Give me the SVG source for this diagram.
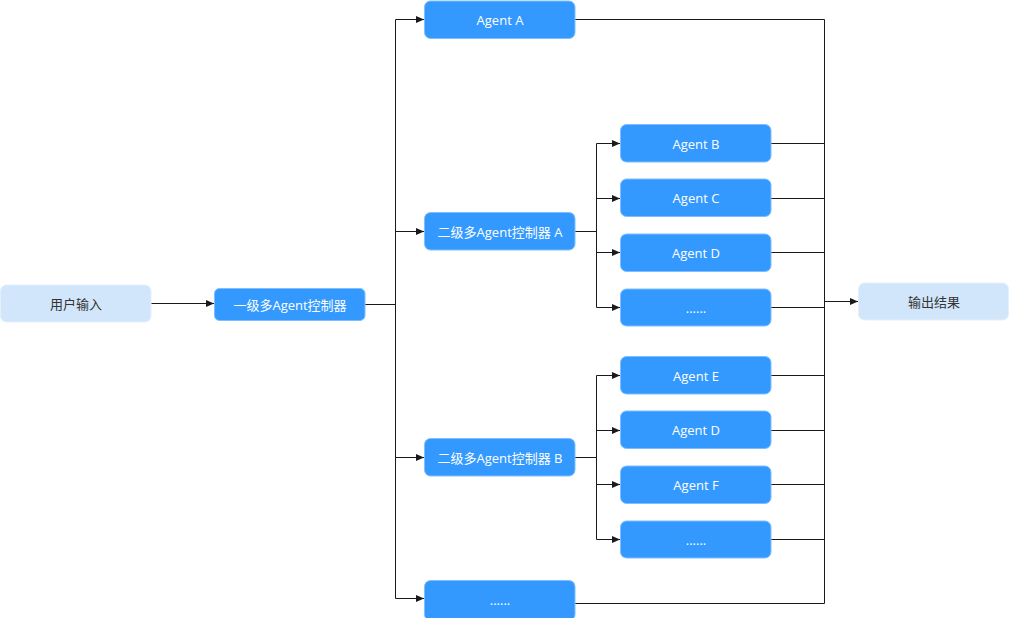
<svg xmlns="http://www.w3.org/2000/svg" width="1010" height="618" viewBox="0 0 1010 618">
<style>
.b{fill:#3399ff;stroke:#7fbfff;stroke-width:1}
.l{fill:#d1e6fa;stroke:#e3f0fc;stroke-width:1}
.t{font-family:"Open Sans","Noto Sans CJK SC",sans-serif;font-size:13px;text-anchor:middle;dominant-baseline:central}
.tw{fill:#ffffff}
.td{fill:#333333}
.c{fill:none;stroke:#1a1a1a;stroke-width:1}
</style>
<defs>
<marker id="ah" markerWidth="8" markerHeight="8" refX="8" refY="4" orient="auto" markerUnits="userSpaceOnUse">
<path d="M0,0.5 L8,4 L0,7.5 Z" fill="#1a1a1a"/>
</marker>
</defs>
<g id="connectors">
<path class="c" d="M151,303.5 H214" marker-end="url(#ah)"/>
<path class="c" d="M365,304.5 H395.5"/>
<path class="c" d="M395.5,19.5 V598.5"/>
<path class="c" d="M395.5,19.5 H424" marker-end="url(#ah)"/>
<path class="c" d="M395.5,231.5 H424" marker-end="url(#ah)"/>
<path class="c" d="M395.5,457.5 H424" marker-end="url(#ah)"/>
<path class="c" d="M395.5,598.5 H424" marker-end="url(#ah)"/>
<path class="c" d="M575,231.5 H596.5"/>
<path class="c" d="M596.5,143.5 V307.5"/>
<path class="c" d="M596.5,143.5 H620" marker-end="url(#ah)"/>
<path class="c" d="M596.5,198.5 H620" marker-end="url(#ah)"/>
<path class="c" d="M596.5,252.5 H620" marker-end="url(#ah)"/>
<path class="c" d="M596.5,307.5 H620" marker-end="url(#ah)"/>
<path class="c" d="M575,457.5 H596.5"/>
<path class="c" d="M596.5,375.5 V539.5"/>
<path class="c" d="M596.5,375.5 H620" marker-end="url(#ah)"/>
<path class="c" d="M596.5,430.5 H620" marker-end="url(#ah)"/>
<path class="c" d="M596.5,484.5 H620" marker-end="url(#ah)"/>
<path class="c" d="M596.5,539.5 H620" marker-end="url(#ah)"/>
<path class="c" d="M575,19.5 H824.5 V603.5 H575"/>
<path class="c" d="M771,143.5 H824.5"/>
<path class="c" d="M771,198.5 H824.5"/>
<path class="c" d="M771,252.5 H824.5"/>
<path class="c" d="M771,307.5 H824.5"/>
<path class="c" d="M771,375.5 H824.5"/>
<path class="c" d="M771,430.5 H824.5"/>
<path class="c" d="M771,484.5 H824.5"/>
<path class="c" d="M771,539.5 H824.5"/>
<path class="c" d="M824.5,301.5 H858" marker-end="url(#ah)"/>
</g>
<g id="user-input"><rect class="l" x="0.5" y="285" width="150.5" height="37" rx="6"/><text class="t td" x="76" y="303.5">用户输入</text></g>
<g id="controller-1"><rect class="b" x="214.5" y="288.5" width="150.5" height="32" rx="5"/><text class="t tw" x="290" y="304.5">一级多Agent控制器</text></g>
<g id="agent-a"><rect class="b" x="424.5" y="1" width="150.5" height="37.5" rx="6"/><text class="t tw" x="500" y="19.5">Agent A</text></g>
<g id="controller-2a"><rect class="b" x="424.5" y="212.5" width="150.5" height="37.5" rx="6"/><text class="t tw" x="500" y="231.5">二级多Agent控制器 A</text></g>
<g id="agent-b"><rect class="b" x="620.5" y="124.5" width="150.5" height="37.5" rx="6"/><text class="t tw" x="696" y="143.5">Agent B</text></g>
<g id="agent-c"><rect class="b" x="620.5" y="179" width="150.5" height="37.5" rx="6"/><text class="t tw" x="696" y="197.5">Agent C</text></g>
<g id="agent-d1"><rect class="b" x="620.5" y="234" width="150.5" height="37.5" rx="6"/><text class="t tw" x="696" y="252.5">Agent D</text></g>
<g id="more-a"><rect class="b" x="620.5" y="289" width="150.5" height="37" rx="6"/><text class="t tw" x="696" y="307.5">......</text></g>
<g id="controller-2b"><rect class="b" x="424.5" y="438.5" width="150.5" height="37.5" rx="6"/><text class="t tw" x="500" y="457.5">二级多Agent控制器 B</text></g>
<g id="agent-e"><rect class="b" x="620.5" y="356.5" width="150.5" height="37.5" rx="6"/><text class="t tw" x="696" y="375.5">Agent E</text></g>
<g id="agent-d2"><rect class="b" x="620.5" y="411" width="150.5" height="37.5" rx="6"/><text class="t tw" x="696" y="429.5">Agent D</text></g>
<g id="agent-f"><rect class="b" x="620.5" y="466" width="150.5" height="37.5" rx="6"/><text class="t tw" x="696" y="484.5">Agent F</text></g>
<g id="more-b"><rect class="b" x="620.5" y="521" width="150.5" height="37" rx="6"/><text class="t tw" x="696" y="539.5">......</text></g>
<g id="more-top"><rect class="b" x="424.5" y="580.5" width="150.5" height="40" rx="6"/><text class="t tw" x="500" y="599.5">......</text></g>
<g id="output"><rect class="l" x="858.5" y="283" width="150" height="37" rx="6"/><text class="t td" x="934" y="301.5">输出结果</text></g>
</svg>
